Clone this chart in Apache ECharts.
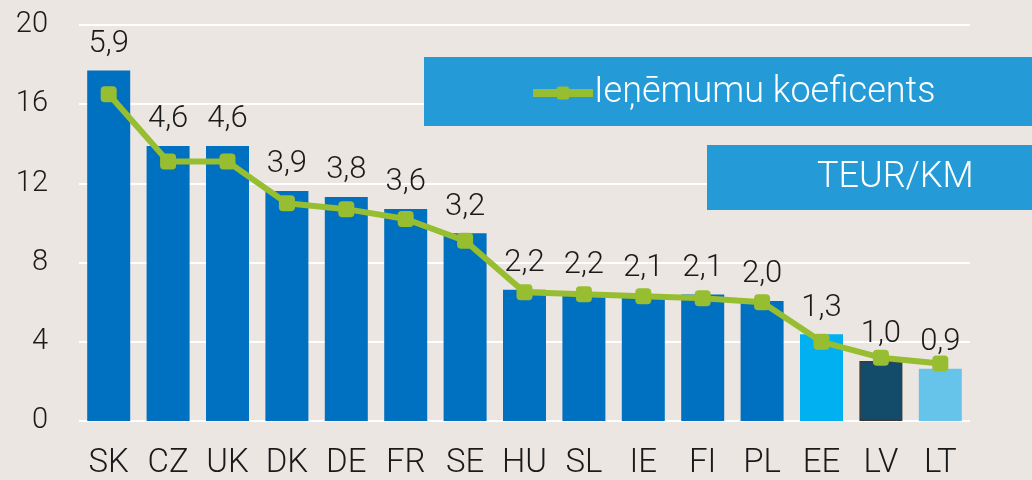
<!DOCTYPE html>
<html><head><meta charset="utf-8">
<script src="https://cdn.jsdelivr.net/npm/echarts@6/dist/echarts.min.js"></script>
<style>html,body{margin:0;padding:0;background:#ECE6E3;}#c{width:1032px;height:480px;}</style>
</head><body><div id="c"></div>
<script>
const categories = ['SK','CZ','UK','DK','DE','FR','SE','HU','SL','IE','FI','PL','EE','LV','LT'];
const teurKm = [5.9,4.63,4.63,3.87,3.77,3.57,3.16,2.21,2.17,2.13,2.13,2.02,1.46,1.01,0.88];
const teurKmLabels = ['5,9','4,6','4,6','3,9','3,8','3,6','3,2','2,2','2,2','2,1','2,1','2,0','1,3','1,0','0,9'];
const koeficents = [16.5,13.1,13.1,11.0,10.7,10.2,9.1,6.5,6.4,6.3,6.2,6.0,4.0,3.2,2.9];
const yTicks = [0,4,8,12,16,20];
const barColors = ['#0070C0','#0070C0','#0070C0','#0070C0','#0070C0','#0070C0','#0070C0','#0070C0','#0070C0','#0070C0','#0070C0','#0070C0','#00B0F0','#134B6B','#66C3EA'];

const FONT = 'Roboto';
const chart = echarts.init(document.getElementById('c'));
chart.setOption({
  backgroundColor: '#ECE6E3',
  animation: false,
  grid: {left: 79, right: 62, top: 25, bottom: 56},
  graphic: [
    {type:'rect', left: 424, top: 57, shape:{width: 608, height: 69}, style:{fill:'#249BD6'}, z: 5},
    {type:'rect', left: 707, top: 145, shape:{width: 325, height: 65}, style:{fill:'#249BD6'}, z: 5},
    {type:'text', left: 817, top: 160, style:{text:'TEUR/KM', fill:'#ffffff', fontSize: 36, fontFamily: FONT, fontWeight: 300}, z: 6}
  ],
  legend: {
    data: ['Ieņēmumu koeficents'],
    left: 524, top: 70, z: 10, itemGap: 0,
    itemWidth: 60, itemHeight: 16,
    lineStyle: {width: 8},
    textStyle: {color:'#ffffff', fontSize: 36, fontFamily: FONT, fontWeight: 300, padding: [0,0,0,-4]}
  },
  xAxis: {
    type: 'category', data: categories,
    axisLine: {show:false}, axisTick: {show:false},
    axisLabel: {color:'#1a1a1a', fontSize: 33, fontFamily: FONT, fontWeight: 300, margin: 26}
  },
  yAxis: [
    {type:'value', min: yTicks[0], max: yTicks[yTicks.length-1], interval: 4,
     axisLine:{show:false}, axisTick:{show:false},
     splitLine:{lineStyle:{color:'#ffffff', width: 2}},
     axisLabel:{color:'#1a1a1a', fontSize: 29, fontFamily: FONT, fontWeight: 300, margin: 31}},
    {type:'value', min: 0, max: 20/3, show: false, splitLine:{show:false}}
  ],
  series: [
    {name:'TEUR/KM', type:'bar', yAxisIndex: 1, barWidth: 43,
     data: teurKm.map((v,i)=>({value:v, itemStyle:{color: barColors[i], borderColor: i===13 ? '#3a3a3a' : barColors[i], borderWidth: i===13 ? 1.5 : 0}})),
     label:{show:true, position:'top', distance: 11, color:'#1a1a1a', fontSize: 31, fontFamily: FONT, fontWeight: 300,
       formatter: p => teurKmLabels[p.dataIndex]}},
    {name:'Ieņēmumu koeficents', type:'line', yAxisIndex: 0, data: koeficents,
     symbol:'roundRect', symbolSize: 16,
     lineStyle:{color:'#97BD30', width: 6},
     itemStyle:{color:'#97BD30'}, z: 4}
  ]
});
</script></body></html>
